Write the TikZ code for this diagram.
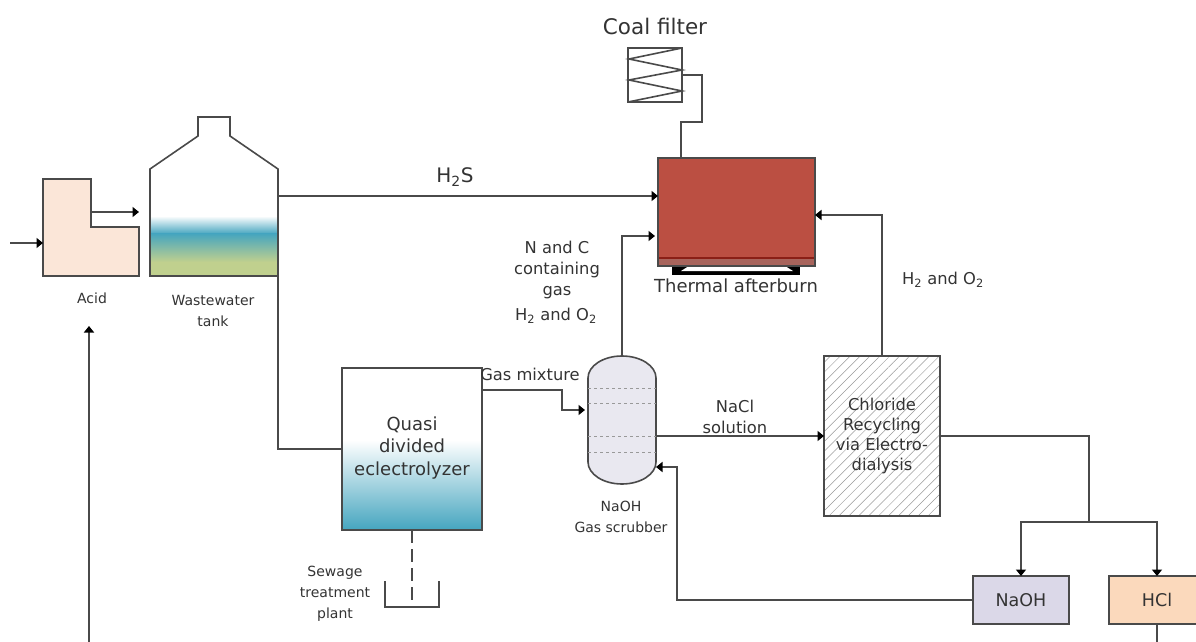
\documentclass[tikz,border=0pt]{standalone}
\usepackage{fontspec}
\setmainfont{DejaVu Sans}
\usetikzlibrary{arrows.meta,patterns.meta}
\definecolor{linegray}{HTML}{4A4A4A}
\definecolor{acidfill}{HTML}{FBE6D8}
\definecolor{waterblue}{HTML}{45A5BF}
\definecolor{sludgegreen}{HTML}{C0D08E}
\definecolor{furnacered}{HTML}{BB4F42}
\definecolor{furnacedark}{HTML}{8A1F16}
\definecolor{furnaceband}{HTML}{A8645C}
\definecolor{scrubberfill}{HTML}{E9E8F0}
\definecolor{naohfill}{HTML}{DBD8E8}
\definecolor{hclfill}{HTML}{FBD9BC}
\tikzset{
	unit/.style={draw=linegray, line width=1.6pt},
	anchorbox/.style={inner sep=0pt, outer sep=0pt},
	flowline/.style={draw=linegray, line width=1.6pt},
	flowarrow/.style={flowline, -{Triangle[length=6.5pt,width=10pt,black]}},
	textlabel/.style={align=center, text=black!80, font=\fontsize{14}{21}\selectfont},
	streamlabel/.style={textlabel, font=\fontsize{16.3}{21}\selectfont},
	boxlabel/.style={textlabel, font=\fontsize{17.5}{21}\selectfont},
}
\begin{document}
\begin{tikzpicture}[x=1pt, y=-1pt]
	\clip (0,0) rectangle (1196,642);

	%% Acid tank
	\node [anchorbox, minimum width=96pt, minimum height=97pt] (acid) at (91,227.5) {};
	\draw [unit, fill=acidfill] (acid.north west) -- ++(48pt,0) -- ++(0,-48pt) -- ++(48pt,0)
		-- (acid.south east) -- (acid.south west) -- cycle;
	\node [textlabel] (acidname) at (92,298) {Acid};
	\coordinate (acidfeed) at (10,243);
	\coordinate (returnfeed) at (89,642);
	\coordinate (returntip) at (89,326);

	%% Wastewater tank, the liquid in two bands
	\node [anchorbox, minimum width=128pt, minimum height=107pt] (tank) at (214,222.5) {};
	\shade [top color=white, bottom color=waterblue] (150,216) rectangle (278,234);
	\shade [top color=waterblue, bottom color=sludgegreen] (150,233.5) rectangle (278,262);
	\fill [sludgegreen] (150,261.5) rectangle (278,276);
	\draw [unit] (tank.south west) -- (tank.north west) -- ++(48pt,33pt) -- ++(0,19pt) -- ++(32pt,0)
		-- ++(0,-19pt) -- (tank.north east) -- (tank.south east) -- cycle;
	\node [textlabel] (tankname) at (213,310.5) {Wastewater\\tank};

	%% Thermal afterburn
	\node [anchorbox, unit, fill=furnacered, minimum width=157pt, minimum height=108pt] (furnace) at (736.5,212) {};
	\fill [furnaceband] ([yshift=8pt]furnace.south west) rectangle (furnace.south east);
	\draw [furnacedark, line width=1.2pt] ([yshift=8pt]furnace.south west) -- ([yshift=8pt]furnace.south east);
	\draw [unit] (furnace.south west) rectangle (furnace.north east);
	\fill [black] (672,267) rectangle (800,274.5);
	\fill [white] (681,271) -- (687,267.2) -- (787,267.2) -- (793,271) -- cycle;
	\node [textlabel, font=\fontsize{18}{21}\selectfont] (furnacename) at (736,286) {Thermal afterburn};

	%% Coal filter
	\node [anchorbox, unit, minimum width=54pt, minimum height=54pt] (filter) at (655,75) {};
	\draw [unit] (filter.north east) -- ++(-53pt,-11pt) -- ++(53pt,-11pt) -- ++(-53pt,-10pt)
		-- ++(53pt,-11pt) -- (filter.south west);
	\node [textlabel, font=\fontsize{21.5}{25}\selectfont] (filtername) at (655,26) {Coal filter};

	%% Quasi divided electrolyzer
	\node [anchorbox, minimum width=140pt, minimum height=162pt] (cell) at (412,449) {};
	\shade [top color=white, bottom color=waterblue] (342,440) rectangle (482,530);
	\draw [unit] (cell.south west) rectangle (cell.north east);
	\node [boxlabel, font=\fontsize{18}{22.5}\selectfont] (cellname) at (412,448) {Quasi\\divided\\eclectrolyzer};

	%% Sewage basin
	\node [anchorbox, minimum width=54pt, minimum height=26pt] (basin) at (412,594) {};
	\draw [unit] (basin.north west) -- (basin.south west) -- (basin.south east) -- (basin.north east);
	\node [textlabel] (basinname) at (335,594) {Sewage\\treatment\\plant};

	%% Gas scrubber
	\node [anchorbox, minimum width=68pt, minimum height=128pt] (scrubber) at (622,420) {};
	\draw [unit, fill=scrubberfill] (588,378)
		arc [start angle=180, end angle=0, x radius=34pt, y radius=22pt]
		-- (656,462)
		arc [start angle=0, end angle=-180, x radius=34pt, y radius=22pt]
		-- cycle;
	\foreach \tray in {388, 403, 436, 452} {
		\draw [black!40, dashed, line width=0.5pt] (588,\tray) -- (656,\tray);
	}
	\node [textlabel] (scrubbername) at (621,517) {NaOH\\Gas scrubber};

	%% Chloride recycling
	\node [anchorbox, minimum width=116pt, minimum height=160pt] (recycling) at (882,436) {};
	\fill [pattern={Lines[angle=45, distance=7pt, line width=0.5pt]}, pattern color=black!40]
		(recycling.south west) rectangle (recycling.north east);
	\draw [unit, line width=2.2pt] (recycling.south west) rectangle (recycling.north east);
	\node [streamlabel, font=\fontsize{16.3}{20.3}\selectfont] (recyclingname) at (882,436) {Chloride\\Recycling\\via Electro-\\dialysis};

	%% Products
	\node [anchorbox, unit, fill=naohfill, minimum width=96pt, minimum height=48pt,
		boxlabel] (naoh) at (1021,600) {NaOH};
	\node [anchorbox, unit, fill=hclfill, minimum width=96pt, minimum height=48pt,
		boxlabel] (hcl) at (1157,600) {HCl};

	%% Split point and free ends
	\coordinate (split) at (1089,522);
	\coordinate (hclout) at (1157,642);

	%% Connectors
	\draw [flowarrow] (acidfeed) -- (acidfeed -| acid.west);
	\draw [flowarrow] ([yshift=15.5pt]acid.center) -- ([yshift=15.5pt]acid.east);
	\draw [flowarrow] (returnfeed) -- (returntip);
	\draw [flowarrow] ([yshift=26.5pt]tank.east) -- ([yshift=16pt]furnace.west);
	\draw [flowline] (tank.south east) |- (cell.west);
	\draw [flowline] (filter.east) -- ++(20pt,0) -- ++(0,-47pt) -- ++(-21pt,0) -- ([xshift=-55.5pt]furnace.north);
	\draw [flowarrow] (scrubber.north) |- ([xshift=-3pt,yshift=-24pt]furnace.west);
	\draw [flowarrow] ([yshift=59pt]cell.east) -- ++(80pt,0) -- ++(0,-20pt) -- ([xshift=-3pt,yshift=10pt]scrubber.west);
	\draw [flowline, dash pattern=on 13pt off 6pt] (cell.south) -- (cell.south |- basin.south);
	\draw [flowarrow] (scrubber.east) ++(0,-16pt) -- (recycling.west);
	\draw [flowarrow] (recycling.north) |- ([yshift=-3pt]furnace.east);
	\draw [flowline] (recycling.east) -| (split);
	\draw [flowarrow] (split) -| (naoh.north);
	\draw [flowarrow] (split) -| (hcl.north);
	\draw [flowarrow] (naoh.west) -| (677,467) -- ([yshift=-47pt]scrubber.east);
	\draw [flowline] (hcl.south) -- (hclout);

	%% Stream labels
	\node [textlabel, font=\fontsize{20}{24}\selectfont] (h2sname) at (455,177) {H\textsubscript{2}S};
	\node [streamlabel] (gasname) at (557,270) {N and C\\containing\\gas};
	\node [streamlabel] (gasoxy) at (556,316) {H\textsubscript{2} and O\textsubscript{2}};
	\node [streamlabel] (recycleoxy) at (943,280) {H\textsubscript{2} and O\textsubscript{2}};
	\node [streamlabel] (mixname) at (530,374) {Gas mixture};
	\node [streamlabel] (naclname) at (735,417) {NaCl\\solution};
\end{tikzpicture}
\end{document}
